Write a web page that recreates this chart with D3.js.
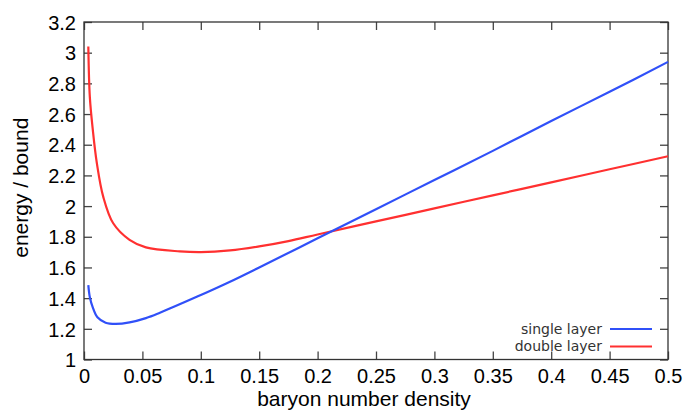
<!DOCTYPE html>
<html>
<head>
<meta charset="utf-8">
<script src="https://cdn.jsdelivr.net/npm/d3@7"></script>
<style>
html,body{margin:0;padding:0;background:#fff;}
svg{display:block;}
</style>
</head>
<body>
<svg id="chart" width="689" height="410"></svg>
<script>
// ---- data ----
const xTicks = [0, 0.05, 0.1, 0.15, 0.2, 0.25, 0.3, 0.35, 0.4, 0.45, 0.5];
const yTicks = [1, 1.2, 1.4, 1.6, 1.8, 2, 2.2, 2.4, 2.6, 2.8, 3, 3.2];
const xTickLabels = ["0","0.05","0.1","0.15","0.2","0.25","0.3","0.35","0.4","0.45","0.5"];
const yTickLabels = ["1","1.2","1.4","1.6","1.8","2","2.2","2.4","2.6","2.8","3","3.2"];

const singleDensity = [0.0037,0.005,0.0075,0.0115,0.0185,0.027,0.039,0.053,0.065,0.097,0.125,0.15,0.2,0.25,0.3,0.35,0.4,0.45,0.5];
const singleEnergy  = [1.485,1.406,1.34,1.275,1.24,1.232,1.242,1.27,1.305,1.41,1.507,1.60,1.79,1.98,2.17,2.36,2.555,2.745,2.94];

const doubleDensity = [0.0037,0.005,0.0075,0.011,0.0165,0.025,0.039,0.053,0.082,0.1,0.125,0.15,0.175,0.2,0.25,0.3,0.35,0.4,0.45,0.5];
const doubleEnergy  = [3.04,2.71,2.50,2.28,2.06,1.888,1.78,1.731,1.705,1.70,1.711,1.737,1.772,1.815,1.90,1.985,2.07,2.155,2.24,2.325];

const seriesNames = ["single layer", "double layer"];
const seriesColors = ["#3050f8", "#ff3030"];

// ---- layout ----
const L = 84, R = 668, T = 22, B = 359.5;
const svg = d3.select("#chart");
const x = d3.scaleLinear().domain([0, 0.5]).range([L, R]);
const y = d3.scaleLinear().domain([1, 3.2]).range([B, T]);
const font = "'Liberation Sans', Arial, Helvetica, sans-serif";
const tickLen = 8;

// axes: ticks inward, all four sides
const axB = d3.axisBottom(x).tickValues(xTicks).tickSize(tickLen).tickFormat((d,i)=>xTickLabels[i]).tickPadding(0);
const axT = d3.axisTop(x).tickValues(xTicks).tickSize(tickLen).tickFormat("");
const axLf = d3.axisLeft(y).tickValues(yTicks).tickSize(tickLen).tickFormat((d,i)=>yTickLabels[i]);
const axRt = d3.axisRight(y).tickValues(yTicks).tickSize(tickLen).tickFormat("");

function style(g){
  g.select(".domain").remove();
  g.selectAll(".tick line").attr("stroke","#444").attr("stroke-width",1.3);
}

const gB = svg.append("g").attr("transform",`translate(0,${B})`).call(axB).call(style);
gB.selectAll(".tick line").attr("y2",-tickLen);
gB.selectAll(".tick text").attr("y",23).attr("dy",0).attr("font-family",font).attr("font-size",20).attr("fill","#000");
const gT = svg.append("g").attr("transform",`translate(0,${T})`).call(axT).call(style);
gT.selectAll(".tick line").attr("y2",tickLen);
const gLf = svg.append("g").attr("transform",`translate(${L},0)`).call(axLf).call(style);
gLf.selectAll(".tick line").attr("x2",tickLen);
gLf.selectAll(".tick text").attr("x",-8).attr("dy","0.36em").attr("font-family",font).attr("font-size",20).attr("fill","#000");
const gRt = svg.append("g").attr("transform",`translate(${R},0)`).call(axRt).call(style);
gRt.selectAll(".tick line").attr("x2",-tickLen);

// frame
svg.append("rect").attr("x",L).attr("y",T).attr("width",R-L).attr("height",B-T)
  .attr("fill","none").attr("stroke","#333").attr("stroke-width",1.3);

// lines
const line = d3.line().x(d=>x(d[0])).y(d=>y(d[1])).curve(d3.curveCatmullRom.alpha(0.5));
const singleData = singleDensity.map((d,i)=>[d, singleEnergy[i]]);
const doubleData = doubleDensity.map((d,i)=>[d, doubleEnergy[i]]);
svg.append("path").datum(doubleData).attr("d",line).attr("fill","none").attr("stroke",seriesColors[1]).attr("stroke-width",2.2);
svg.append("path").datum(singleData).attr("d",line).attr("fill","none").attr("stroke",seriesColors[0]).attr("stroke-width",2.2);

// legend
const legY = [329, 346.5];
seriesNames.forEach((n,i)=>{
  svg.append("text").attr("x",602).attr("y",legY[i]).attr("dy","0.35em").attr("text-anchor","end")
    .attr("font-family","'DejaVu Sans', sans-serif").attr("font-size",14).attr("fill","#333").text(n);
  svg.append("line").attr("x1",610).attr("x2",652).attr("y1",legY[i]).attr("y2",legY[i])
    .attr("stroke",seriesColors[i]).attr("stroke-width",2.2);
});

// axis titles
svg.append("text").attr("x",(L+R)/2 - 12).attr("y",406).attr("text-anchor","middle")
  .attr("font-family",font).attr("font-size",21).attr("fill","#000").text("baryon number density");
svg.append("text").attr("transform",`translate(28,${(T+B)/2 - 3}) rotate(-90)`).attr("text-anchor","middle")
  .attr("font-family",font).attr("font-size",21).attr("fill","#000").text("energy / bound");
</script>
</body>
</html>
